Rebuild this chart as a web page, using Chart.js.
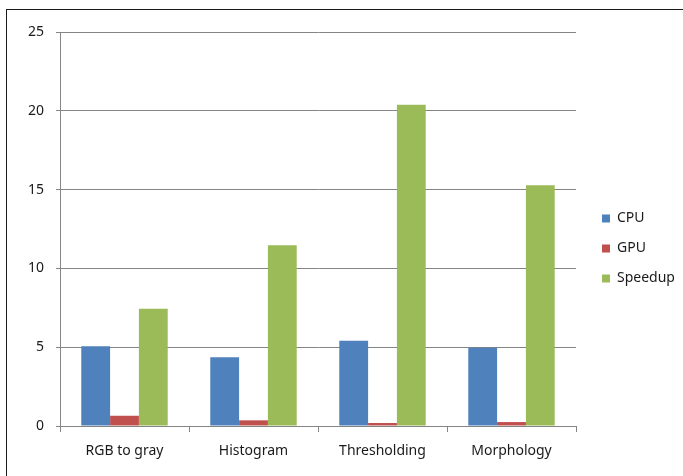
<!DOCTYPE html>
<html>
<head>
<meta charset="utf-8">
<script src="https://cdn.jsdelivr.net/npm/chart.js@4.4.0/dist/chart.umd.min.js"></script>
<style>
  html, body { margin: 0; padding: 0; background: #fff; }
  #wrap { position: relative; width: 683px; height: 476px; overflow: hidden; }
  #myChart { display: block; }
  #frame { position: absolute; left: 6px; top: 9px; width: 800px; height: 600px;
           border-left: 1.5px solid #1a1a1a; border-top: 1.5px solid #1a1a1a; pointer-events: none; }
</style>
</head>
<body>
<div id="wrap">
  <canvas id="myChart" width="683" height="476"></canvas>
  <div id="frame"></div>
</div>
<script>
const categories = ['RGB to gray', 'Histogram', 'Thresholding', 'Morphology'];
const cpuValues = [5.06, 4.36, 5.41, 4.96];
const gpuValues = [0.65, 0.36, 0.19, 0.25];
const speedupValues = [7.44, 11.47, 20.38, 15.27];
const yTicks = [0, 5, 10, 15, 20, 25];

const font = { family: '"Noto Sans", sans-serif', size: 14 };
const textColor = '#1a1a1a';
const gridGray = '#858585';

// legend is 107px wide in the original, items sit a bit right of its left edge
const legendNudge = {
  id: 'legendNudge',
  afterInit(chart) {
    const legend = chart.legend;
    const origFit = legend.fit;
    legend.fit = function () {
      origFit.apply(this, arguments);
      this.width = 107;
    };
    const origDraw = legend.draw;
    legend.draw = function () {
      const c = this.ctx;
      c.save();
      c.translate(10, -5.5);
      origDraw.apply(this, arguments);
      c.restore();
    };
  }
};

const ctx = document.getElementById('myChart').getContext('2d');
const chart = new Chart(ctx, {
  type: 'bar',
  data: {
    labels: categories,
    datasets: [
      { label: 'CPU', data: cpuValues, backgroundColor: '#4F81BD' },
      { label: 'GPU', data: gpuValues, backgroundColor: '#C0504D' },
      { label: 'Speedup', data: speedupValues, backgroundColor: '#9BBB59' }
    ]
  },
  options: {
    responsive: false,
    animation: false,
    layout: { padding: { top: 32, bottom: 0, left: 0, right: 0 } },
    datasets: { bar: { categoryPercentage: 0.67, barPercentage: 1.0, borderWidth: 0 } },
    plugins: {
      tooltip: { enabled: false },
      legend: {
        position: 'right',
        labels: {
          font: font,
          color: textColor,
          boxWidth: 8,
          boxHeight: 8,
          padding: 16
        }
      }
    },
    scales: {
      x: {
        grid: { drawOnChartArea: false, drawTicks: true, tickLength: 6, color: gridGray, offset: true },
        border: { color: gridGray, width: 1 },
        ticks: { font: font, color: textColor, padding: 11 },
        afterFit: (scale) => { scale.height = 50; }
      },
      y: {
        min: 0,
        max: 25,
        afterBuildTicks: (scale) => { scale.ticks = yTicks.map(v => ({ value: v })); },
        grid: { color: gridGray, tickLength: 4 },
        border: { color: gridGray, width: 1 },
        ticks: { font: font, color: textColor, padding: 12 },
        afterFit: (scale) => { scale.width = 60; }
      }
    }
  },
  plugins: [legendNudge]
});
</script>
</body>
</html>
